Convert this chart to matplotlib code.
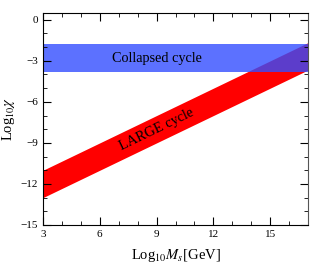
import numpy as np
import matplotlib.pyplot as plt
from matplotlib.ticker import MultipleLocator

plt.rcParams['font.family'] = ['Liberation Serif', 'DejaVu Serif']
plt.rcParams['mathtext.fontset'] = 'stix'

# bands
ms = [3, 17]                    # Log10 Ms [GeV]
large_hi = [-11.0, -1.67]       # upper edge of LARGE cycle band
large_lo = [-13.0, -3.67]       # lower edge
coll_lo, coll_hi = -3.8, -1.8   # collapsed cycle band

fig = plt.figure(figsize=(3.14, 2.64), dpi=100)
ax = fig.add_axes([0.137, 0.148, 0.844, 0.803])

ax.fill_between(ms, large_lo, large_hi, color='#ff0000', lw=0)
ax.axhspan(coll_lo, coll_hi, color=(0.2, 0.3, 1.0), alpha=0.8, lw=0)

ax.text(9, -2.85, 'Collapsed cycle', ha='center', va='center', fontsize=10.3)
ax.text(9, -8.0, 'LARGE cycle', ha='center', va='center', fontsize=10.3,
        rotation=25.8, rotation_mode='anchor')

ax.set_xlim(3, 17)
ax.set_ylim(-15, 0.5)
ax.xaxis.set_major_locator(MultipleLocator(3))
ax.xaxis.set_minor_locator(MultipleLocator(1))
ax.yaxis.set_major_locator(MultipleLocator(3))
ax.yaxis.set_minor_locator(MultipleLocator(1))
ax.tick_params(which='both', direction='in', top=True, right=True, labelsize=8)
ax.tick_params(which='major', length=6)
ax.tick_params(which='minor', length=3)
ax.spines['right'].set_color('#555555')

ax.set_xlabel(r'Log$_{10}M_s$[GeV]', fontsize=10.5, labelpad=6)
ax.set_ylabel(r'Log$_{10}\chi$', fontsize=10.5, labelpad=3)

fig.savefig('out.png', dpi=100)
